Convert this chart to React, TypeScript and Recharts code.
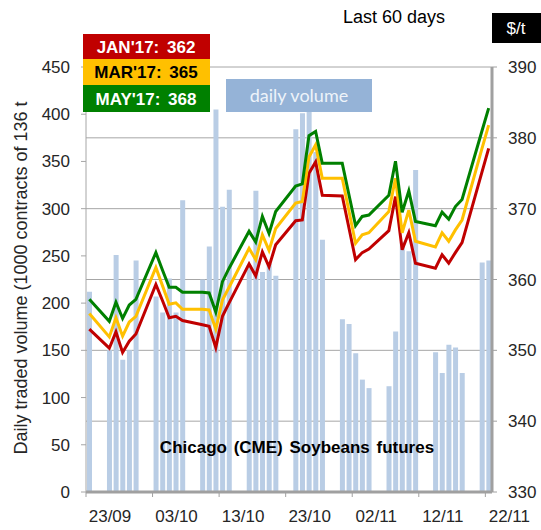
import { Bar, CartesianGrid, ComposedChart, Line, XAxis, YAxis } from 'recharts'

// trading days, counted from 23/09 (day 0)
const days = [0, 3, 4, 5, 6, 7, 10, 11, 12, 13, 14, 17, 18, 19, 20, 21, 24, 25, 26, 27, 28, 31, 32, 33, 34, 35, 38, 39, 40, 41, 42, 45, 46, 47, 48, 49, 52, 53, 54, 55, 56, 59, 60]

const volume = [212, 150, 251, 140, 150, 245, 207, 190, 226, 190, 309, 225, 260, 405, 302, 320, 240, 319, 233, 242, 229, 384, 401, 408, 360, 267, 183, 178, 147, 119, 110, 112, 170, 265, 255, 341, 148, 126, 156, 153, 126, 243, 245]

const jan17 = [353.0, 350.3, 352.6, 349.7, 351.3, 352.3, 359.3, 357.0, 354.6, 354.8, 354.2, 353.6, 353.4, 350.4, 354.8, 356.7, 362.2, 360.5, 363.9, 361.8, 364.9, 368.3, 368.4, 375.0, 376.6, 371.9, 371.8, 367.3, 362.8, 363.8, 364.3, 366.9, 371.7, 364.2, 366.6, 362.3, 361.6, 363.5, 362.3, 363.8, 365.2, 375.2, 378.5]
const mar17 = [355.2, 351.9, 354.6, 352.0, 354.0, 354.8, 361.7, 359.1, 356.5, 356.7, 355.8, 355.8, 355.7, 353.0, 357.1, 358.9, 364.4, 362.8, 366.3, 364.1, 367.2, 370.8, 371.0, 377.3, 379.0, 374.3, 374.3, 369.7, 365.1, 366.3, 366.6, 369.6, 374.3, 366.6, 369.8, 365.4, 364.6, 366.6, 365.4, 367.0, 368.4, 378.5, 381.8]
const may17 = [357.2, 354.1, 356.8, 354.5, 356.4, 357.2, 363.8, 361.3, 358.9, 358.9, 358.2, 358.2, 358.1, 355.4, 359.7, 361.6, 366.8, 365.3, 368.9, 366.5, 369.6, 373.2, 373.5, 380.3, 380.9, 376.4, 376.4, 372.0, 367.6, 368.9, 369.1, 371.9, 376.7, 369.5, 372.5, 368.2, 367.6, 369.5, 368.5, 370.3, 371.3, 381.0, 384.2]

const dateTicks = [-0.5, 9.5, 19.5, 29.5, 39.5, 49.5, 59.5]
const dateLabels = ['23/09', '03/10', '13/10', '23/10', '02/11', '12/11', '22/11']
const volTicks = [0, 50, 100, 150, 200, 250, 300, 350, 400, 450]
const priceTicks = [330, 340, 350, 360, 370, 380, 390]

const data = days.map((d, i) => ({ d, vol: volume[i], jan: jan17[i], mar: mar17[i], may: may17[i] }))

const font = '"Liberation Sans", Arial, sans-serif'

function DateTick(props: any) {
  const { x, y, payload } = props
  const i = dateTicks.indexOf(payload.value)
  return (
    <text x={x + 24} y={y + 23} textAnchor="middle" fontSize={17} fill="#262626" fontFamily={font}>
      {dateLabels[i]}
    </text>
  )
}

export default function App() {
  return (
    <div style={{ position: 'absolute', left: 0, top: 0, width: 541, height: 530, background: '#fff' }}>
      <ComposedChart width={541} height={530} data={data} margin={{ top: 67, right: 0, bottom: 0, left: 0 }}>
        <CartesianGrid yAxisId="right" vertical={false} stroke="#a6a6a6" />
        <XAxis
          dataKey="d"
          type="number"
          domain={[-0.5, 60.5]}
          ticks={dateTicks}
          interval={0}
          height={38}
          tickSize={5}
          axisLine={{ stroke: '#a0a0a0', strokeWidth: 3 }}
          tickLine={{ stroke: '#a0a0a0' }}
          tick={<DateTick />}
        />
        <YAxis
          yAxisId="left"
          width={86}
          domain={[0, 450]}
          ticks={volTicks}
          interval={0}
          tickSize={5}
          tickMargin={11}
          axisLine={{ stroke: '#a6a6a6' }}
          tickLine={{ stroke: '#a6a6a6' }}
          tick={{ fontSize: 17, fill: '#262626', fontFamily: font }}
        />
        <YAxis
          yAxisId="right"
          orientation="right"
          width={49}
          domain={[330, 390]}
          ticks={priceTicks}
          interval={0}
          tickSize={5}
          tickMargin={11}
          axisLine={{ stroke: '#a0a0a0', strokeWidth: 3 }}
          tickLine={{ stroke: '#a0a0a0' }}
          tick={{ fontSize: 17, fill: '#262626', fontFamily: font, textAnchor: 'start' }}
        />
        <Bar yAxisId="left" dataKey="vol" fill="#b9cde5" barSize={5} isAnimationActive={false} />
        <Line yAxisId="right" type="linear" dataKey="jan" stroke="#c00000" strokeWidth={3} dot={false} isAnimationActive={false} />
        <Line yAxisId="right" type="linear" dataKey="mar" stroke="#ffc000" strokeWidth={3} dot={false} isAnimationActive={false} />
        <Line yAxisId="right" type="linear" dataKey="may" stroke="#008000" strokeWidth={3} dot={false} isAnimationActive={false} />
      </ComposedChart>
      <svg width={541} height={530} style={{ position: 'absolute', left: 0, top: 0, pointerEvents: 'none' }} fontFamily={font}>
        <text x={394} y={23} textAnchor="middle" fontSize={18} fill="#000">Last 60 days</text>
        <rect x={492} y={13} width={49} height={30} fill="#000" />
        <text x={516} y={34} textAnchor="middle" fontSize={17} fill="#fff">$/t</text>

        <rect x={83} y={34} width={127} height={25} fill="#c00000" />
        <text x={146} y={53} textAnchor="middle" fontSize={17} fontWeight="bold" fill="#fff" wordSpacing={3}>JAN'17: 362</text>
        <rect x={83} y={59} width={127} height={26} fill="#ffc000" />
        <text x={146} y={78} textAnchor="middle" fontSize={17} fontWeight="bold" fill="#000" wordSpacing={3}>MAR'17: 365</text>
        <rect x={83} y={85} width={127} height={27} fill="#008000" />
        <text x={146} y={105} textAnchor="middle" fontSize={17} fontWeight="bold" fill="#fff" wordSpacing={3}>MAY'17: 368</text>

        <rect x={226} y={79} width={146} height={33} fill="#95b3d7" />
        <text x={299} y={102} textAnchor="middle" fontSize={18} fill="#eef3fa" fontFamily="Lato, sans-serif">daily volume</text>

        <text x={297} y={453} textAnchor="middle" fontSize={17} fontWeight="bold" fill="#000" wordSpacing={2}>Chicago (CME) Soybeans futures</text>

        <text transform="translate(27,278) rotate(-90)" textAnchor="middle" fontSize={18} fill="#262626">
          Daily traded volume  (1000 contracts of 136 t
        </text>
      </svg>
    </div>
  )
}
